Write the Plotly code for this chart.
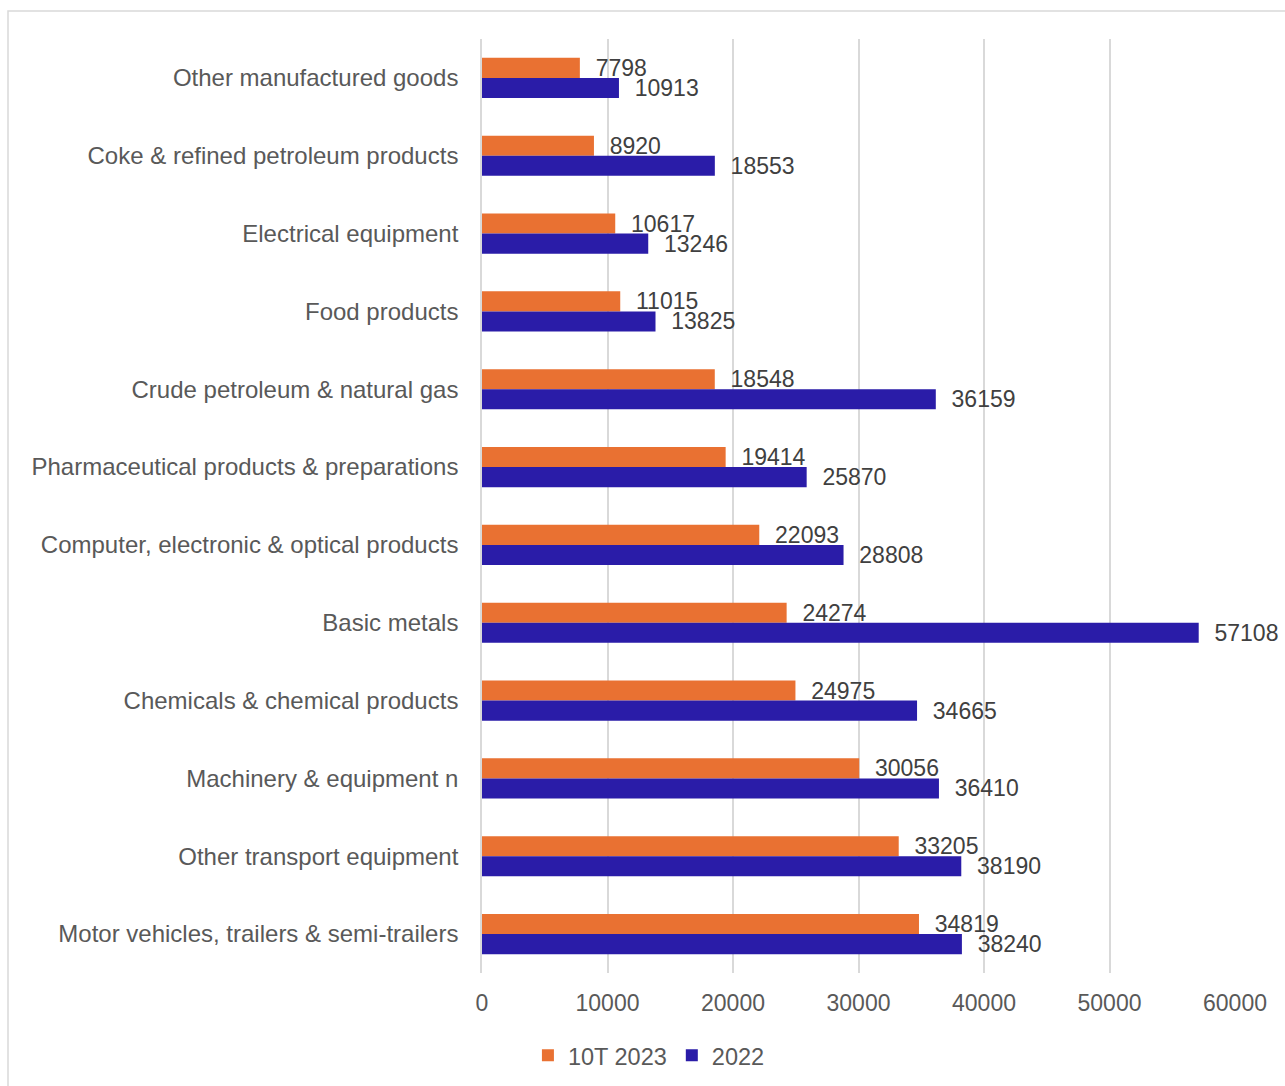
import plotly.graph_objects as go

categories = [
    "Other manufactured goods",
    "Coke & refined petroleum products",
    "Electrical equipment",
    "Food products",
    "Crude petroleum & natural gas",
    "Pharmaceutical products & preparations",
    "Computer, electronic & optical products",
    "Basic metals",
    "Chemicals & chemical products",
    "Machinery & equipment n",
    "Other transport equipment",
    "Motor vehicles, trailers & semi-trailers",
]
values_10t_2023 = [7798, 8920, 10617, 11015, 18548, 19414, 22093, 24274, 24975, 30056, 33205, 34819]
values_2022 = [10913, 18553, 13246, 13825, 36159, 25870, 28808, 57108, 34665, 36410, 38190, 38240]
x_ticks = [0, 10000, 20000, 30000, 40000, 50000, 60000]

ORANGE = "#E97132"
BLUE = "#2A1CA8"
TEXT = "#595959"
FONT = "Liberation Sans, Arial, sans-serif"
pad = "\u00a0\u00a0"

fig = go.Figure()
fig.add_trace(go.Bar(
    y=categories, x=values_10t_2023, orientation="h", name="10T 2023",
    marker=dict(color=ORANGE, line=dict(width=0)),
    text=[pad + str(v) for v in values_10t_2023], textposition="outside",
    constraintext="none",
    textfont=dict(size=23, color="#404040", family=FONT), cliponaxis=False,
))
fig.add_trace(go.Bar(
    y=categories, x=values_2022, orientation="h", name="2022",
    marker=dict(color=BLUE, line=dict(width=0)),
    text=[pad + str(v) for v in values_2022], textposition="outside",
    constraintext="none",
    textfont=dict(size=23, color="#404040", family=FONT), cliponaxis=False,
))

W, H = 1285, 1086
L, R, T, B = 482, 50, 39, 113
pw, ph = W - L - R, H - T - B

fig.update_layout(
    width=W, height=H,
    margin=dict(l=L, r=R, t=T, b=B),
    barmode="group", bargap=0.485, bargroupgap=0,
    plot_bgcolor="white", paper_bgcolor="white",
    font=dict(family=FONT, size=23, color=TEXT),
    legend=dict(
        orientation="h", xref="container", yref="container",
        x=0.505, xanchor="center", y=0.028, yanchor="middle",
        font=dict(size=23.5, color=TEXT), itemwidth=30, traceorder="normal",
    ),
    xaxis=dict(
        range=[0, 60000], tickvals=x_ticks, ticktext=[str(v) for v in x_ticks],
        showgrid=True, gridcolor="#d9d9d9", gridwidth=1.6,
        zeroline=False, showline=False,
        ticks="outside", ticklen=9, tickcolor="rgba(0,0,0,0)",
        tickfont=dict(size=23, color=TEXT),
    ),
    yaxis=dict(
        autorange="reversed", showgrid=False, zeroline=False,
        showline=True, linecolor="#d9d9d9", linewidth=1.6,
        ticks="outside", ticklen=17, tickcolor="rgba(0,0,0,0)",
        tickfont=dict(size=24, color=TEXT),
    ),
    shapes=[dict(
        type="rect", xref="paper", yref="paper",
        x0=(8 - L) / pw, x1=(W + 5 - L) / pw,
        y0=-(H + 5 - (T + ph)) / ph, y1=1 + (T - 11) / ph,
        line=dict(color="#d9d9d9", width=1.5), fillcolor="rgba(0,0,0,0)",
        layer="below",
    )],
)

fig.write_html("out.html")
